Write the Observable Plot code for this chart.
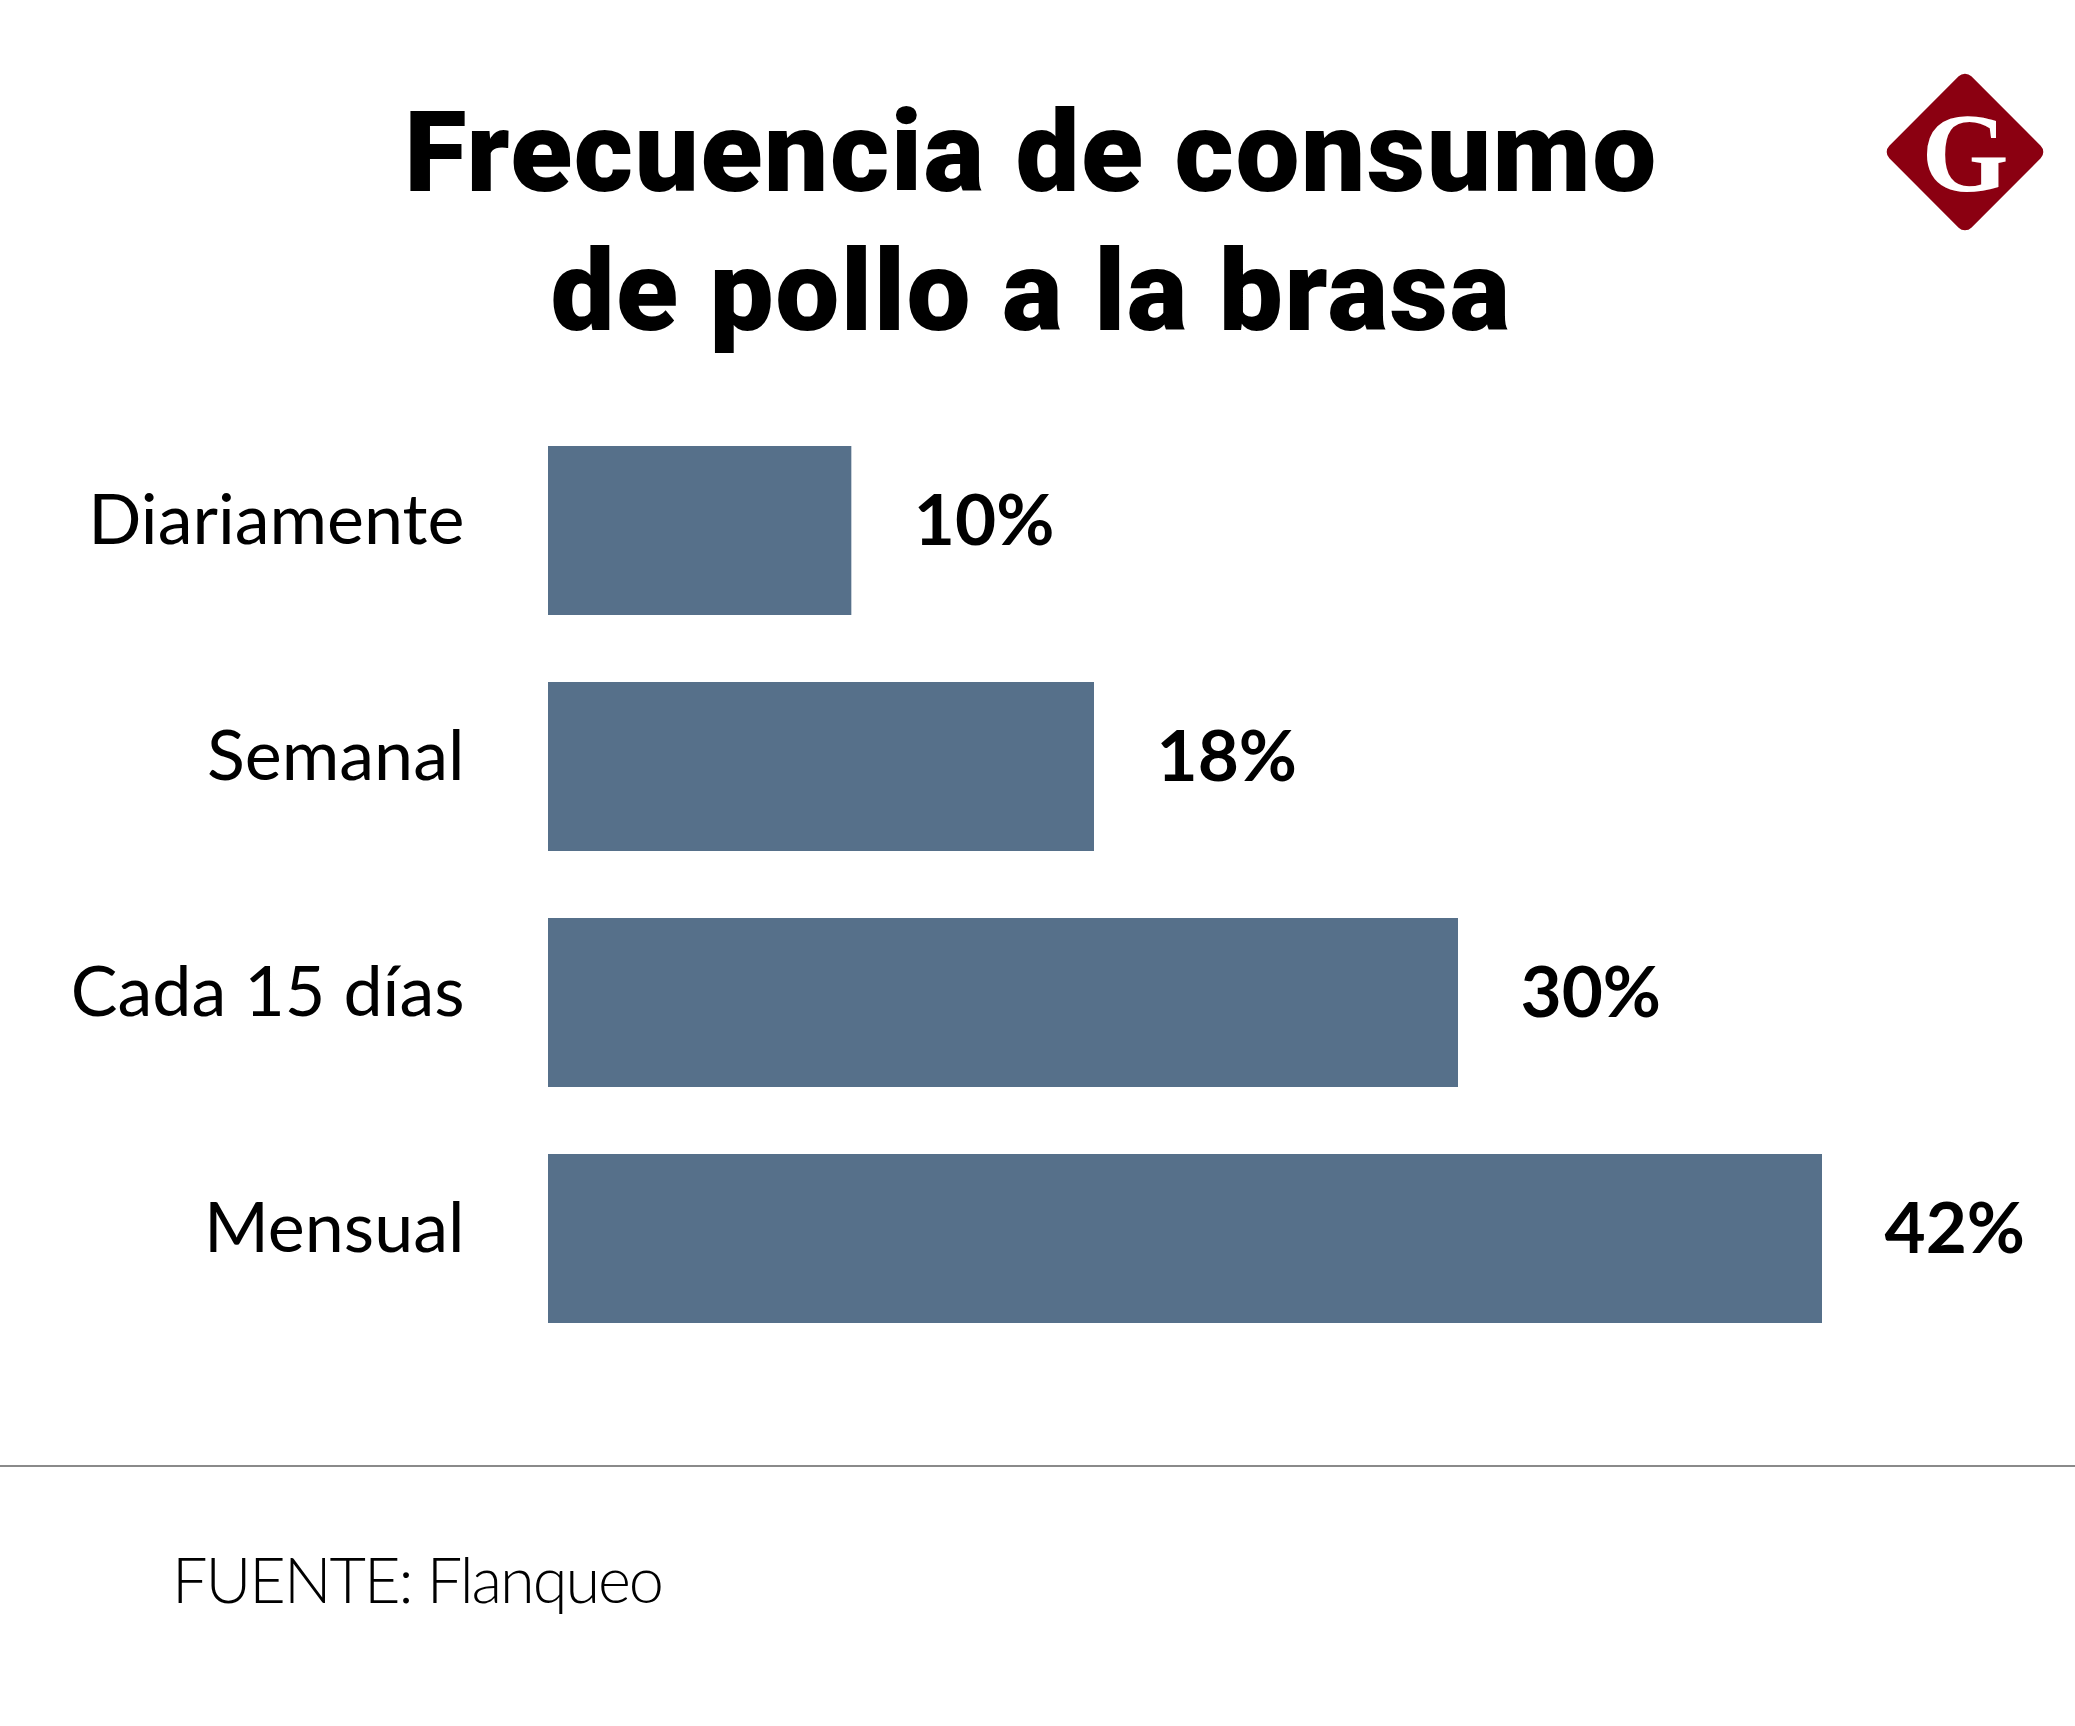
<!DOCTYPE html>
<html>
<head>
<meta charset="utf-8">
<script src="https://cdn.jsdelivr.net/npm/d3@7"></script>
<script src="https://cdn.jsdelivr.net/npm/@observablehq/plot@0.6"></script>
<style>
  html, body { margin: 0; padding: 0; background: #fff; }
  #page { position: relative; width: 2075px; height: 1726px; background: #fff; overflow: hidden; }
  #head { position: relative; width: 2075px; height: 400px; }
  #title { position: absolute; left: 0; top: 83px; width: 2062px; text-align: center;
           font-family: Roboto, sans-serif; font-weight: 900; font-size: 114px; line-height: 139px; color: #000; margin: 0;
           letter-spacing: 1.5px; }
  #logo { position: absolute; left: 1880px; top: 67px; }
  #foot { position: relative; width: 2075px; height: 326px; }
  #rule { position: absolute; left: 0; top: 65px; width: 2075px; height: 2px; background: #8a8a8a; }
  #source { position: absolute; left: 172px; top: 147px; font-family: Lato, sans-serif; font-weight: 300;
            font-size: 63px; line-height: 63px; color: #000; white-space: nowrap; letter-spacing: -2px; }
</style>
</head>
<body>
<div id="page">
  <div id="head">
    <h1 id="title">Frecuencia de consumo<br>de pollo a la brasa</h1>
    <svg id="logo" width="170" height="170" viewBox="0 0 170 170">
      <rect x="27" y="27" width="116" height="116" rx="9" ry="9" fill="#8b0011" transform="rotate(45 85 85)"></rect>
      <text x="85" y="85" dy="0.35em" text-anchor="middle" fill="#fff" font-family="Liberation Serif, serif" font-weight="700" font-size="112">G</text>
    </svg>
  </div>
  <div id="chart"></div>
  <div id="foot">
    <div id="rule"></div>
    <div id="source">FUENTE: Flanqueo</div>
  </div>
</div>
<script>
const categories = ["Diariamente", "Semanal", "Cada 15 días", "Mensual"];
const values = [10, 18, 30, 42];
const valueLabels = ["10%", "18%", "30%", "42%"];

const data = categories.map((c, i) => ({label: c, value: values[i], text: valueLabels[i]}));

const chart = Plot.plot({
  width: 2075,
  height: 1000,
  marginLeft: 548,
  marginRight: 253,
  marginTop: 46,
  marginBottom: 77,
  style: {fontFamily: "Lato, sans-serif", background: "#fff", color: "#000"},
  x: {domain: [0, 42], axis: null},
  y: {domain: categories, paddingInner: 0.284, paddingOuter: 0, label: null},
  marks: [
    Plot.barX(data, {x: "value", y: "label", fill: "#56708a"}),
    Plot.axisY({tickSize: 0, tickPadding: 84, fontSize: 70, fontWeight: 400, dy: -9, label: null, fill: "#000"}),
    Plot.text(data, {x: "value", y: "label", text: "text", textAnchor: "start", dx: 62, dy: -9,
                     fontSize: 71, fontWeight: 700, fill: "#000"})
  ]
});
document.getElementById("chart").appendChild(chart);
</script>
</body>
</html>
